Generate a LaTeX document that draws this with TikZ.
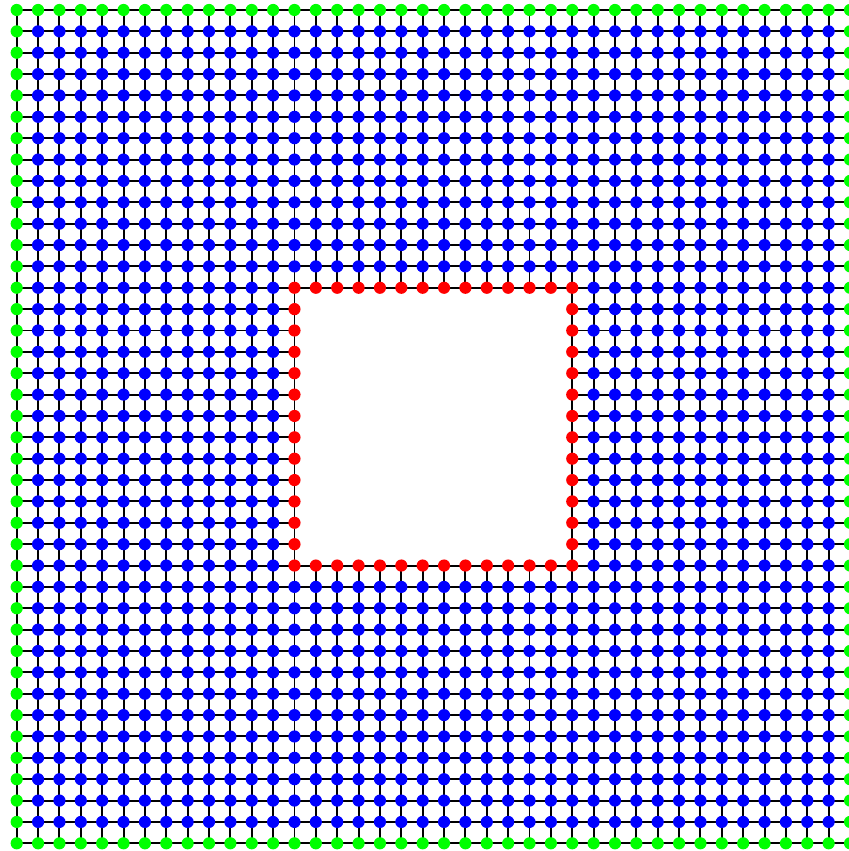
\documentclass[tikz,border=0pt]{standalone}
\usetikzlibrary{backgrounds}
\definecolor{vgreen}{RGB}{0,255,0}
\definecolor{vblue}{RGB}{0,0,255}
\definecolor{vred}{RGB}{255,0,0}
\begin{document}
\begin{tikzpicture}[x=0.5cm,y=0.5cm,
  vtx/.style={circle,inner sep=0pt,minimum size=0.285cm,draw=none},
  outer/.style={vtx,fill=vgreen},
  inner/.style={vtx,fill=vblue},
  rim/.style={vtx,fill=vred},
  link/.style={line width=1.3pt,black}]
\useasboundingbox (-0.782,-0.36) rectangle (38.94,39.468);
\foreach \i in {0,...,39}{
  \foreach \j in {0,...,39}{
    \pgfmathtruncatemacro\hA{and(and(\i>13,\i<26),and(\j>13,\j<26))}
    \pgfmathtruncatemacro\bA{or(or(\i==0,\i==39),or(\j==0,\j==39))}
    \pgfmathtruncatemacro\rA{and(and(\i>12,\i<27),and(\j>12,\j<27))}
    \ifnum\hA=0
      \ifnum\bA=1
        \node[outer] (n-\i-\j) at (\i,\j) {};
      \else
        \ifnum\rA=1
          \node[rim] (n-\i-\j) at (\i,\j) {};
        \else
          \node[inner] (n-\i-\j) at (\i,\j) {};
        \fi
      \fi
    \fi
  }
}
\begin{pgfonlayer}{background}
\foreach \i in {0,...,38}{
  \foreach \j in {0,...,39}{
    \pgfmathtruncatemacro\ii{\i+1}
    \pgfmathtruncatemacro\hA{and(and(\i>13,\i<26),and(\j>13,\j<26))}
    \pgfmathtruncatemacro\hB{and(and(\ii>13,\ii<26),and(\j>13,\j<26))}
    \ifnum\hA=0 \ifnum\hB=0
      \draw[link] (n-\i-\j.center) -- (n-\ii-\j.center);
    \fi\fi
    \pgfmathtruncatemacro\vA{and(and(\j>13,\j<26),and(\i>13,\i<26))}
    \pgfmathtruncatemacro\vB{and(and(\j>13,\j<26),and(\ii>13,\ii<26))}
    \ifnum\vA=0 \ifnum\vB=0
      \draw[link] (n-\j-\i.center) -- (n-\j-\ii.center);
    \fi\fi
  }
}
\end{pgfonlayer}
\end{tikzpicture}
\end{document}
